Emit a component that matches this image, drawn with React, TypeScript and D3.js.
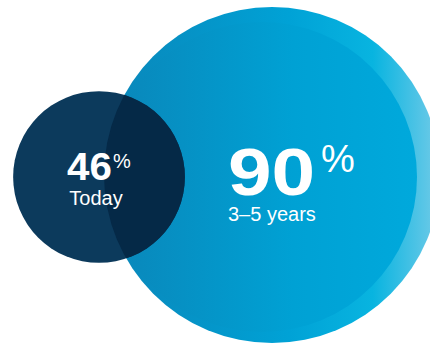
import React from "react";
import * as d3 from "d3";

const values = [46, 90];
const labels = ["Today", "3–5 years"];
const suffix = "%";

const W = 430;
const H = 344;

export default function App() {
  const r = d3.scaleLinear().domain([0, 90]).range([0, 168]);
  const small = { cx: 99, cy: 177, r: r(values[0]) };
  const big = { cx: 272, cy: 175, r: r(values[1]) };
  const inner = { cx: 262, cy: 177, r: r(values[1]) - 13 };
  const font = "'Liberation Sans', Arial, Helvetica, sans-serif";

  return (
    <svg
      width={W}
      height={H}
      style={{ position: "absolute", left: 0, top: 0, background: "#fff" }}
    >
      <defs>
        <linearGradient id="outerG" x1="0" x2="1" y1="0" y2="0">
          <stop offset="0" stopColor="#0a86b9" />
          <stop offset="0.55" stopColor="#00a2d6" />
          <stop offset="0.8" stopColor="#08b4e0" />
          <stop offset="1" stopColor="#72cbe8" />
        </linearGradient>
        <linearGradient id="innerG" x1="0" x2="1" y1="0" y2="0">
          <stop offset="0" stopColor="#0a86b9" />
          <stop offset="0.6" stopColor="#00a1d4" />
          <stop offset="1" stopColor="#00a9dc" />
        </linearGradient>
        <clipPath id="bigClip">
          <circle cx={big.cx} cy={big.cy} r={big.r} />
        </clipPath>
      </defs>
      <circle cx={big.cx} cy={big.cy} r={big.r} fill="url(#outerG)" />
      <circle cx={inner.cx} cy={inner.cy} r={inner.r} fill="url(#innerG)" clipPath="url(#bigClip)" />
      <circle cx={small.cx} cy={small.cy} r={small.r} fill="#0c3a5c" />
      <circle
        cx={small.cx}
        cy={small.cy}
        r={small.r}
        fill="#052947"
        clipPath="url(#bigClip)"
      />

      <g fill="#fff" fontFamily={font}>
        <text transform="translate(67,180) scale(1.06,1)" fontSize={38} fontWeight="bold">
          {values[0]}
        </text>
        <text x={113} y={168} fontSize={20}>
          {suffix}
        </text>
        <text x={96} y={205} fontSize={20} textAnchor="middle">
          {labels[0]}
        </text>

        <text transform="translate(228,195) scale(1.17,1)" fontSize={67} fontWeight="bold">
          {values[1]}
        </text>
        <text x={321} y={172} fontSize={38}>
          {suffix}
        </text>
        <text x={228} y={221} fontSize={20}>
          {labels[1]}
        </text>
      </g>
    </svg>
  );
}
